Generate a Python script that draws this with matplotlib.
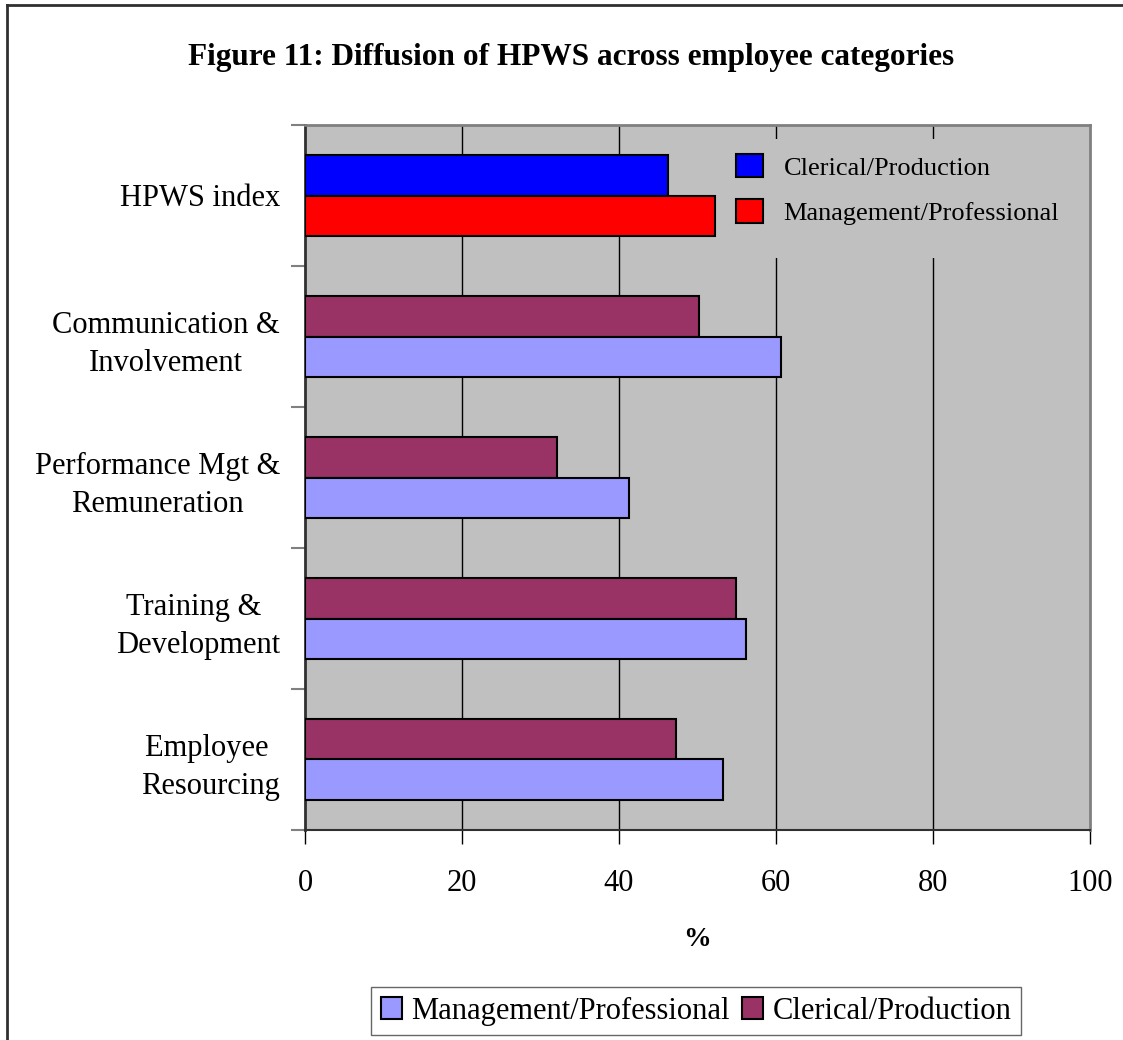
import matplotlib
matplotlib.use("Agg")
import numpy as np
import matplotlib.pyplot as plt
from matplotlib.patches import Patch, Rectangle
from matplotlib.lines import Line2D

plt.rcParams["font.family"] = ["Liberation Serif", "DejaVu Serif"]

# values (percent)
categories = ["HPWS index", "Communication &\nInvolvement", "Performance Mgt &\nRemuneration",
              "Training & \nDevelopment", "Employee \nResourcing"]
clerical = [46.2, 50.2, 32.1, 54.9, 47.3]
management = [52.2, 60.6, 41.3, 56.2, 53.2]
xticks = [0, 20, 40, 60, 80, 100]

GRAY = "#C0C0C0"
C_CLER, C_MGMT = "#993366", "#9999FF"
C_IDX_CLER, C_IDX_MGMT = "#0000FF", "#FF0000"

fig = plt.figure(figsize=(11.23, 10.4), dpi=100)
ax = fig.add_axes([305 / 1123, 1 - 830 / 1040, 785 / 1123, 705 / 1040])
ax.set_facecolor(GRAY)

y = np.arange(len(categories))
h = 0.29
cler_cols = [C_IDX_CLER if i == 0 else C_CLER for i in y]
mgmt_cols = [C_IDX_MGMT if i == 0 else C_MGMT for i in y]
ax.barh(y - h / 2, clerical, height=h, color=cler_cols, edgecolor="black", lw=1.5, zorder=3)
ax.barh(y + h / 2, management, height=h, color=mgmt_cols, edgecolor="black", lw=1.5, zorder=3)

ax.set_xlim(0, 100)
ax.set_ylim(len(categories) - 0.5, -0.5)
ax.set_xticks(xticks)
ax.set_xticklabels([str(t) for t in xticks], fontsize=22)
ax.tick_params(axis="x", direction="out", length=10, width=1, pad=18, color="black")
for t in xticks[1:-1]:
    ax.axvline(t, color="black", lw=1, zorder=0.5)

ax.set_yticks(y)
ax.set_yticklabels(categories, fontsize=22, ha="right", multialignment="center", linespacing=1.4)
ax.tick_params(axis="y", which="major", length=0, pad=18)
ax.set_yticks(np.arange(-0.5, len(categories), 1), minor=True)
ax.tick_params(axis="y", which="minor", direction="out", length=10, width=1.5, color="#808080")

for side in ["top", "right"]:
    ax.spines[side].set_color("#808080")
    ax.spines[side].set_linewidth(2)
ax.spines["left"].set_color("#303030")
ax.spines["left"].set_linewidth(2)
ax.spines["bottom"].set_color("#303030")
ax.spines["bottom"].set_linewidth(1.5)

ax.set_xlabel("%", fontsize=20, fontweight="bold", labelpad=21)

# gray patch hiding the gridlines behind the inner legend
ax.add_patch(Rectangle((0.528, 0.812), 0.472, 0.168, transform=ax.transAxes,
                       facecolor=GRAY, edgecolor="none", zorder=1))
inner = [Patch(facecolor=C_IDX_CLER, edgecolor="black", lw=1.5, label="Clerical/Production"),
         Patch(facecolor=C_IDX_MGMT, edgecolor="black", lw=1.5, label="Management/Professional")]
ax.legend(handles=inner, loc="upper left", bbox_to_anchor=(0.519, 0.993), frameon=False,
          fontsize=19, handlelength=1.0, handleheight=1.0, handletextpad=0.8, labelspacing=0.75)

outer = [Patch(facecolor=C_MGMT, edgecolor="black", lw=1.5, label="Management/Professional"),
         Patch(facecolor=C_CLER, edgecolor="black", lw=1.5, label="Clerical/Production")]
leg = fig.legend(handles=outer, loc="center", bbox_to_anchor=(696 / 1123, 1 - 1011 / 1040), ncol=2,
                 fontsize=22, frameon=True, fancybox=False, edgecolor="#404040",
                 handlelength=0.7, handleheight=0.7, handletextpad=0.3, columnspacing=0.4,
                 borderpad=0.3, borderaxespad=0)
leg.get_frame().set_linewidth(1)

fig.text(571 / 1123, 1 - 57 / 1040, "Figure 11: Diffusion of HPWS across employee categories",
         ha="center", va="center", fontsize=22.5, fontweight="bold")

# outer frame (left and top edges visible)
x0, y0 = 7 / 1123, 1 - 5 / 1040
fig.add_artist(Line2D([x0, x0], [0, y0], color="#303030", lw=2))
fig.add_artist(Line2D([x0, 1], [y0, y0], color="#303030", lw=2))

fig.savefig("out.png", dpi=100)
